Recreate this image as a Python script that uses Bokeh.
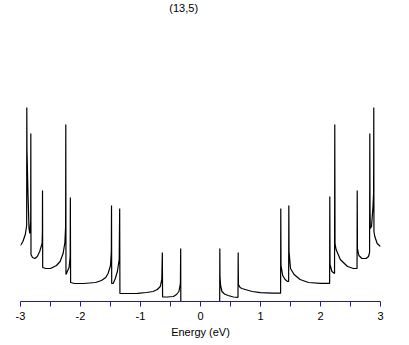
from bokeh.plotting import figure
from bokeh.models import Range1d, FixedTicker, Label
from bokeh.embed import file_html
from bokeh.resources import INLINE

# Density of states for the (13,5) nanotube
energy_neg = [-3.0, -2.96, -2.92, -2.897, -2.895, -2.892, -2.875, -2.858, -2.845, -2.830,
              -2.828, -2.825, -2.80, -2.76, -2.72, -2.68, -2.64, -2.635, -2.633, -2.630,
              -2.58, -2.50, -2.40, -2.34, -2.29, -2.26, -2.248, -2.245, -2.242, -2.22,
              -2.19, -2.172, -2.169, -2.165, -2.10, -1.95, -1.75, -1.65, -1.58, -1.54,
              -1.50, -1.486, -1.483, -1.480, -1.455, -1.42, -1.385, -1.355, -1.347, -1.343,
              -1.25, -1.05, -0.90, -0.79, -0.72, -0.67, -0.645, -0.636, -0.632, -0.55,
              -0.45, -0.40, -0.36, -0.335, -0.330, -0.328, 0.0]
dos_neg = [5.6, 6.0, 6.7, 7.6, 19.4, 15.2, 10.7, 7.3, 6.8, 8.0,
           16.8, 4.7, 4.4, 4.3, 4.5, 5.0, 5.8, 7.0, 11.1, 3.4,
           3.3, 3.3, 3.6, 4.0, 4.8, 5.9, 7.5, 17.7, 2.7, 3.0,
           3.4, 4.5, 10.4, 1.9, 1.8, 1.8, 1.9, 2.1, 2.4, 2.8,
           3.6, 5.0, 9.6, 1.8, 1.8, 2.3, 3.0, 4.2, 9.3, 0.8,
           0.8, 0.82, 0.9, 1.0, 1.2, 1.5, 2.2, 4.9, 0.45, 0.45,
           0.5, 0.7, 1.0, 1.8, 5.3, 0.0, 0.0]

energy_pos = [0.320, 0.322, 0.325, 0.335, 0.357, 0.40, 0.46, 0.55, 0.625, 0.628,
              0.632, 0.66, 0.69, 0.86, 1.0, 1.2, 1.335, 1.338, 1.342, 1.37,
              1.41, 1.45, 1.469, 1.472, 1.476, 1.50, 1.56, 1.66, 1.80, 2.0,
              2.152, 2.155, 2.159, 2.19, 2.234, 2.238, 2.242, 2.26, 2.33, 2.45,
              2.55, 2.609, 2.612, 2.616, 2.64, 2.69, 2.76, 2.80, 2.818, 2.822,
              2.825, 2.83, 2.85, 2.875, 2.885, 2.888, 2.891, 2.905, 2.945, 3.0]
dos_pos = [0.0, 5.3, 2.5, 1.6, 1.0, 0.75, 0.6, 0.45, 0.42, 4.9,
           1.7, 1.4, 1.3, 1.0, 0.88, 0.83, 0.83, 9.3, 3.6, 2.6,
           2.2, 2.0, 2.0, 9.6, 5.0, 3.3, 2.7, 2.2, 1.9, 1.82,
           1.82, 10.5, 3.7, 3.0, 2.8, 17.7, 5.8, 5.2, 4.2, 3.5,
           3.3, 3.3, 11.1, 5.3, 4.6, 4.3, 4.3, 4.5, 4.9, 16.8,
           9.5, 7.3, 7.5, 9.5, 10.8, 19.4, 7.0, 6.5, 5.8, 5.5]

major_ticks = [-3, -2, -1, 0, 1, 2, 3]
minor_ticks = [-2.5, -1.5, -0.5, 0.5, 1.5, 2.5]
tick_labels = {-3: "-3", -2: "-2", -1: "-1", 0: "0", 1: "1", 2: "2", 3: "3"}
title_text = "(13,5)"
x_label = "Energy (eV)"

energy = energy_neg + energy_pos
dos = dos_neg + dos_pos

FONT = "Liberation Sans"
BLUE = "#1c1cb4"

p = figure(width=401, height=343, output_backend="svg", toolbar_location=None,
           x_range=Range1d(-3, 3), y_range=Range1d(0, 30.1),
           min_border_left=20, min_border_right=21, min_border_top=0,
           min_border_bottom=42)
p.outline_line_color = None
p.xgrid.visible = False
p.ygrid.visible = False
p.yaxis.visible = False
p.background_fill_color = "white"
p.border_fill_color = "white"

ax = p.xaxis[0]
ax.ticker = FixedTicker(ticks=major_ticks, minor_ticks=minor_ticks)
ax.major_label_overrides = tick_labels
ax.axis_line_color = BLUE
ax.major_tick_line_color = BLUE
ax.minor_tick_line_color = BLUE
ax.major_tick_out = 5
ax.major_tick_in = 0
ax.minor_tick_out = 5
ax.minor_tick_in = 0
ax.major_label_text_font = FONT
ax.major_label_text_font_size = "11px"
ax.major_label_text_color = "black"
ax.major_label_standoff = 5
ax.axis_label = x_label
ax.axis_label_text_font = FONT
ax.axis_label_text_font_size = "11px"
ax.axis_label_text_font_style = "normal"
ax.axis_label_text_color = "black"
ax.axis_label_standoff = 3

p.line(energy, dos, line_color="black", line_width=1.2)

p.add_layout(Label(x=-0.28, y=30.1, y_offset=-1, text=title_text, text_align="center",
                   text_baseline="top", text_font=FONT, text_font_size="11px",
                   text_color="black"))

open("out.html", "w").write(file_html(p, INLINE))
